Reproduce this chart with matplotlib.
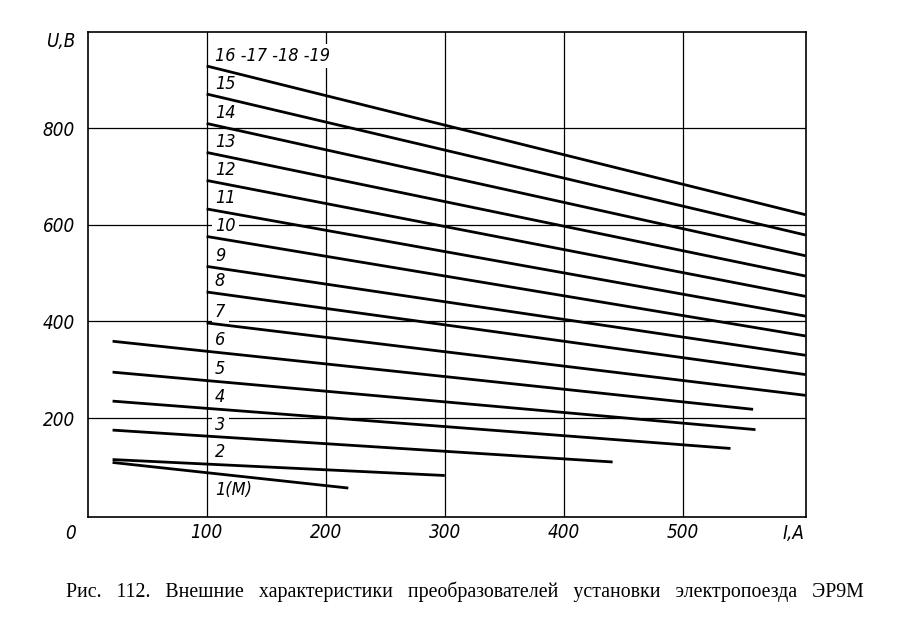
import matplotlib.pyplot as plt

# номера характеристик (позиции контроллера)
labels_top = ["16 -17 -18 -19", "15", "14", "13", "12", "11", "10", "9", "8", "7"]
u_start_top = [929, 871, 810, 750, 692, 633, 576, 514, 461, 397]   # U при I = 100 A
u_end_top = [621, 579, 536, 494, 452, 411, 370, 330, 290, 247]     # U при I = 603 A
i_start_top = 100
i_end_top = 603

labels_low = ["6", "5", "4", "3", "2", "1(M)"]
i_start_low = [21, 21, 21, 21, 21, 21]
u_start_low = [359, 295, 235, 175, 114, 108]
i_end_low = [559, 561, 540, 441, 300, 219]
u_end_low = [218, 176, 137, 109, 81, 55]

x_ticks = [100, 200, 300, 400, 500]
y_ticks = [200, 400, 600, 800]

caption = "Рис.   112.   Внешние   характеристики   преобразователей   установки   электропоезда   ЭР9М"

tick_font = dict(family="DejaVu Sans", stretch="condensed", style="italic", fontsize=13.5)
label_font = dict(family="DejaVu Sans", stretch="condensed", style="italic", fontsize=13)


def line_label(ax, text, x0, y0, x1, y1, below=False):
    # подпись у начала линии, над ней (для 1(M) - под ней)
    xl = 107
    yl = y0 + (y1 - y0) * (xl - x0) / (x1 - x0)
    yl = yl - 35 if below else yl + 25
    ax.text(xl, yl, text, ha="left", va="center", zorder=2,
            bbox=dict(facecolor="white", edgecolor="none", pad=2.5), **label_font)


fig = plt.figure(figsize=(9, 6.23), dpi=100)
ax = fig.add_axes([0.0973, 0.1701, 0.7977, 0.7790])

for i, name in enumerate(labels_top):
    ax.plot([i_start_top, i_end_top], [u_start_top[i], u_end_top[i]], color="black", lw=2.0,
            solid_capstyle="butt", zorder=3)
    line_label(ax, name, i_start_top, u_start_top[i], i_end_top, u_end_top[i])

for i, name in enumerate(labels_low):
    ax.plot([i_start_low[i], i_end_low[i]], [u_start_low[i], u_end_low[i]], color="black", lw=2.0,
            solid_capstyle="butt", zorder=3)
    line_label(ax, name, i_start_low[i], u_start_low[i], i_end_low[i], u_end_low[i],
               below=(name == "1(M)"))

ax.set_xlim(0, 603)
ax.set_ylim(-5, 1000)
ax.set_xticks(x_ticks)
ax.set_yticks(y_ticks)
ax.set_xticklabels([str(v) for v in x_ticks], **tick_font)
ax.set_yticklabels([str(v) for v in y_ticks], **tick_font)
ax.tick_params(axis="x", length=0, pad=4)
ax.tick_params(axis="y", length=0, pad=9)
ax.grid(True, color="black", lw=0.9, zorder=0.5)
ax.set_axisbelow(True)
for s in ax.spines.values():
    s.set_linewidth(1.2)

# ноль и обозначения осей
ax.text(-14, -20, "0", ha="center", va="top", clip_on=False, **tick_font)
ax.text(602, -20, "I,A", ha="right", va="top", clip_on=False, **tick_font)
ax.text(-10, 980, "U,B", ha="right", va="center", clip_on=False, **tick_font)

fig.text(0.517, 0.050, caption, ha="center", va="center", family="Liberation Serif", fontsize=14.3)

plt.savefig("out.png", dpi=100)
